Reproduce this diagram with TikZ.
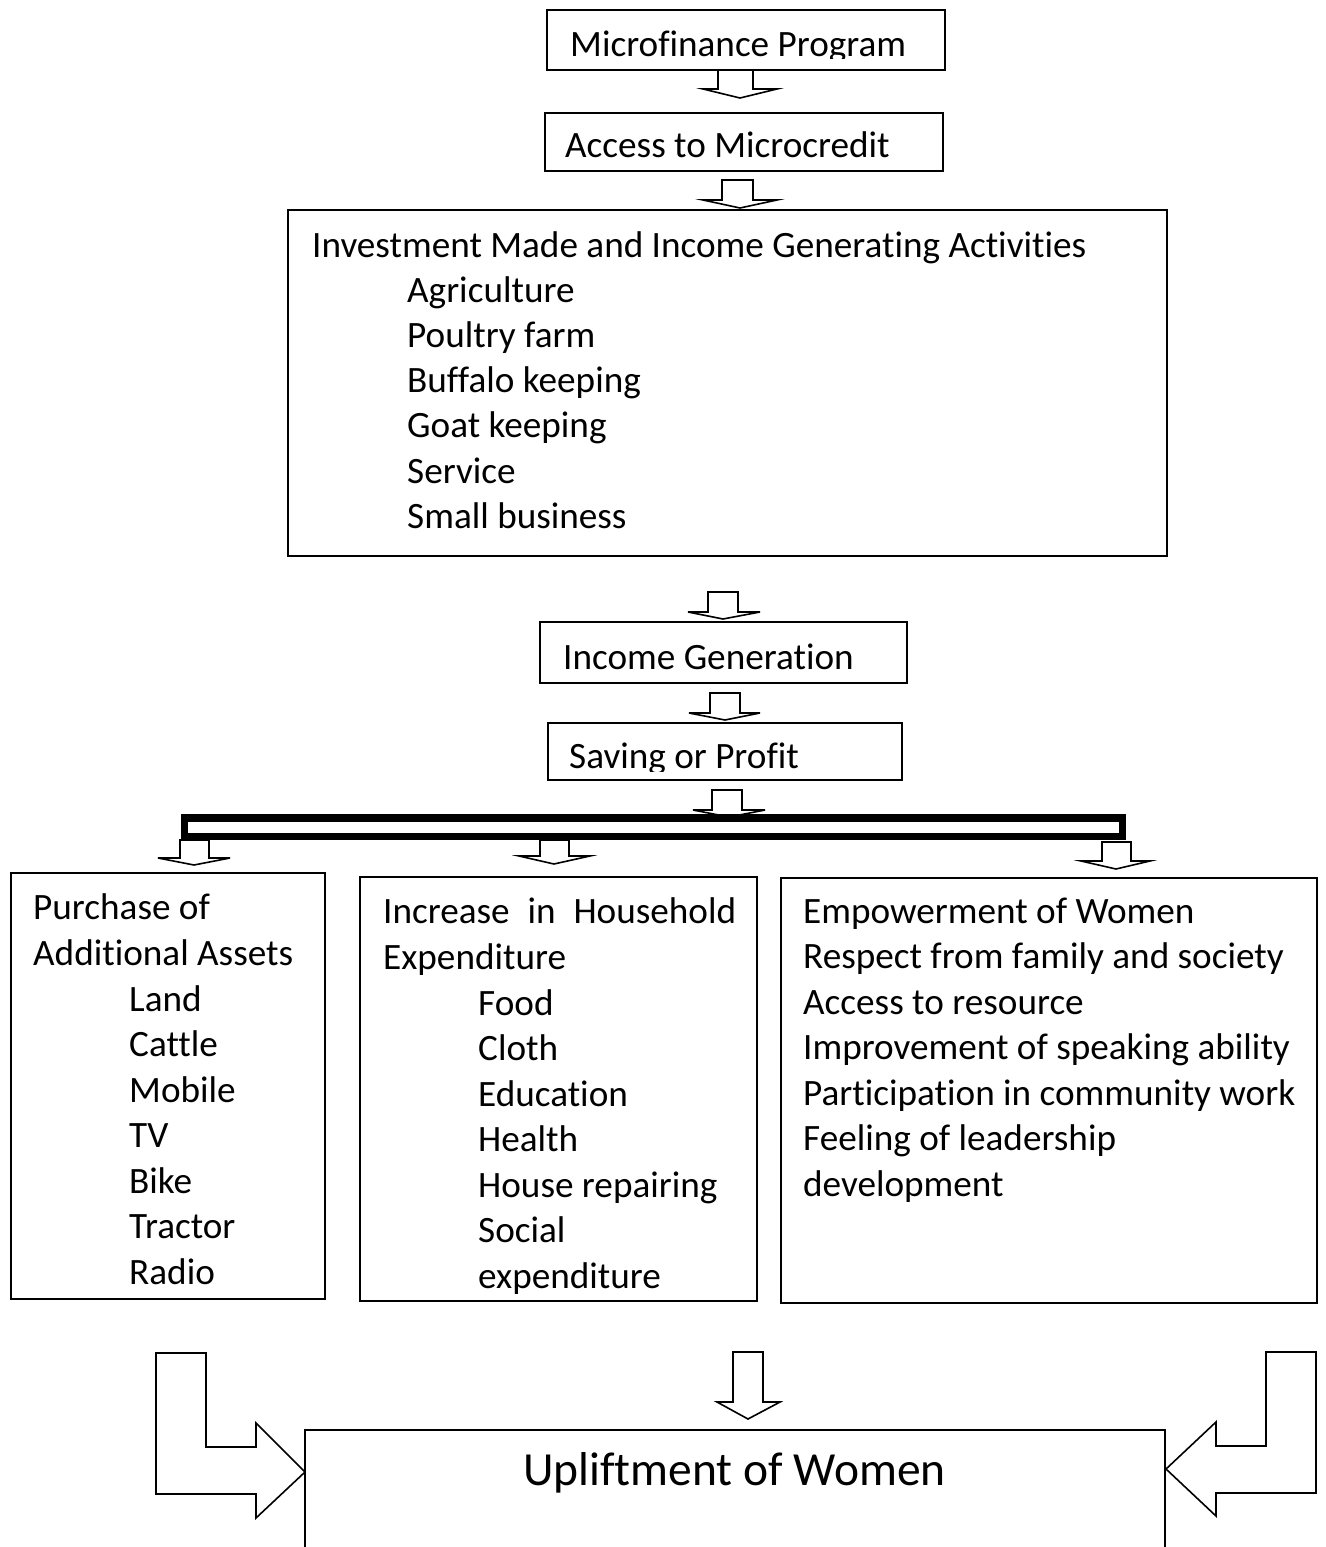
\documentclass[tikz,border=0pt]{standalone}
\usepackage{fontspec}
\setmainfont{Carlito}[Ligatures={NoCommon,NoRare}]
\begin{document}
\begin{tikzpicture}[x=1pt,y=-1pt,line join=miter,
  box/.style={draw=black,line width=1.6pt},
  blk/.style={draw=black,fill=white,line width=1.6pt},
  txt/.style={anchor=base west,inner sep=0pt,font=\fontsize{37.2}{45}\selectfont},
  bigtxt/.style={anchor=base west,inner sep=0pt,font=\fontsize{47.5}{57}\selectfont}]
\useasboundingbox[fill=white] (0,0) rectangle (1325,1547);

% ---------- top boxes ----------
\draw[box] (547,10) rectangle (945,70);
\begin{scope}
  \clip (547,10) rectangle (945,58);
  \node[txt] (t1) at (570,56) {Microfinance Program};
\end{scope}
\draw[blk] (718,70) -- (753,70) -- (753,89) -- (777,89) -- (740,98) -- (703,89) -- (718,89) -- cycle;

\draw[box] (545,113) rectangle (943,171);
\node[txt] (t2) at (565,157) {Access to Microcredit};
\draw[blk] (722,180) -- (753,180) -- (753,200) -- (777,200) -- (740,208) -- (703,200) -- (722,200) -- cycle;

\draw[box] (288,210) rectangle (1167,556);
\node[txt] (t3) at (312,257) {Investment Made and Income Generating Activities};
\foreach \t [count=\i from 0] in {Agriculture,Poultry farm,Buffalo keeping,Goat keeping,Service,Small business}
  \node[txt] (inv\i) at (407,{302+45.3*\i}) {\t};

\draw[blk] (708,592) -- (738,592) -- (738,612) -- (760,612) -- (723,619) -- (688,612) -- (708,612) -- cycle;

\draw[box] (540,622) rectangle (907,683);
\node[txt] (t4) at (563,669) {Income Generation};
\draw[blk] (710,693) -- (740,693) -- (740,713) -- (760,713) -- (725,720) -- (689,713) -- (710,713) -- cycle;

\draw[box] (548,723) rectangle (902,780);
\begin{scope}
  \clip (548,723) rectangle (902,771);
  \node[txt] (t5) at (569,768) {Saving or Profit};
\end{scope}
\draw[blk] (712,790) -- (742,790) -- (742,810) -- (765,810) -- (729,817) -- (693,810) -- (712,810) -- cycle;

% ---------- distribution bar ----------
\draw[draw=black,fill=white,line width=7.5pt] (184.5,818) rectangle (1122.5,836.5);

\draw[blk] (180,840) -- (209,840) -- (209,858) -- (230,858) -- (194,865) -- (158,858) -- (180,858) -- cycle;
\draw[blk] (540,840) -- (569,840) -- (569,856) -- (590,856) -- (554,864) -- (519,856) -- (540,856) -- cycle;
\draw[blk] (1102,842) -- (1131,842) -- (1131,861) -- (1150,861) -- (1116,869) -- (1081,861) -- (1102,861) -- cycle;

% ---------- three boxes ----------
\draw[box] (11,873) rectangle (325,1299);
\node[txt] (p0) at (33,919) {Purchase of};
\node[txt] (p1) at (33,965) {Additional Assets};
\foreach \t [count=\i from 0] in {Land,Cattle,Mobile,TV,Bike,Tractor,Radio}
  \node[txt] (pa\i) at (129,{1011+45.5*\i}) {\t};

\draw[box] (360,877) rectangle (757,1301);
\node[txt] (h0) at (383,923) {\makebox[353pt][s]{Increase in Household}};
\node[txt] (h1) at (383,969) {Expenditure};
\foreach \t [count=\i from 0] in {Food,Cloth,Education,Health,House repairing,Social,expenditure}
  \node[txt] (he\i) at (478,{1015+45.5*\i}) {\t};

\draw[box] (781,878) rectangle (1317,1303);
\foreach \t [count=\i from 0] in {Empowerment of Women,Respect from family and society,Access to resource,Improvement of speaking ability,Participation in community work,Feeling of leadership,development}
  \node[txt] (em\i) at (803,{923+45.5*\i}) {\t};

% ---------- bottom ----------
\draw[blk] (733,1352) -- (763,1352) -- (763,1402) -- (780,1402) -- (748,1419) -- (717,1402) -- (733,1402) -- cycle;

\draw[box] (305,1547) -- (305,1430) -- (1165,1430) -- (1165,1547);
\node[bigtxt] (up) at (523,1485) {Upliftment of Women};

\draw[blk] (156,1353) -- (206,1353) -- (206,1447) -- (256,1447) -- (256,1423) -- (305,1472) -- (256,1518) -- (256,1494) -- (156,1494) -- cycle;
\draw[blk] (1316,1352) -- (1266,1352) -- (1266,1446) -- (1216,1446) -- (1216,1422) -- (1166,1469) -- (1216,1516) -- (1216,1493) -- (1316,1493) -- cycle;
\end{tikzpicture}
\end{document}
